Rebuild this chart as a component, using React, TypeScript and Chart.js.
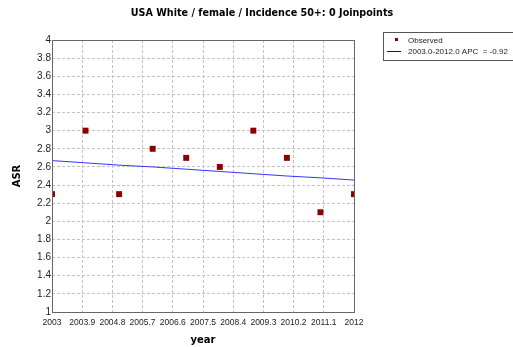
import React, { useEffect, useRef } from "react";
import { Chart, registerables } from "chart.js";

Chart.register(...registerables);

const years = [2003, 2004, 2005, 2006, 2007, 2008, 2009, 2010, 2011, 2012];
const observed = [2.3, 3.0, 2.3, 2.8, 2.7, 2.6, 3.0, 2.7, 2.1, 2.3];
const fitted = [2.67, 2.645, 2.62, 2.6, 2.575, 2.55, 2.525, 2.5, 2.48, 2.455];
const xTickValues = [2003, 2003.9, 2004.8, 2005.7, 2006.6, 2007.5, 2008.4, 2009.3, 2010.2, 2011.1, 2012];
const xTickLabels = ["2003", "2003.9", "2004.8", "2005.7", "2006.6", "2007.5", "2008.4", "2009.3", "2010.2", "2011.1", "2012"];
const titleText = "USA White / female / Incidence 50+: 0 Joinpoints";
const legendLabels = ["Observed", "2003.0-2012.0 APC  = -0.92"];

const BOLD_FONT = "'DejaVu Sans', sans-serif";
const TICK_FONT = "'Liberation Sans', Arial, sans-serif";

export default function App() {
  const ref = useRef<HTMLCanvasElement | null>(null);

  useEffect(() => {
    document.body.style.margin = "0";
    const canvas = ref.current;
    if (!canvas) return;

    const decorPlugin = {
      id: "decor",
      afterDraw(chart: any) {
        const ctx = chart.ctx;
        const a = chart.chartArea;
        ctx.save();
        // frame
        ctx.strokeStyle = "#666666";
        ctx.lineWidth = 1;
        ctx.setLineDash([]);
        ctx.strokeRect(Math.round(a.left) + 0.5, Math.round(a.top) + 0.5, Math.round(a.right - a.left), Math.round(a.bottom - a.top));
        // title
        ctx.fillStyle = "#000";
        ctx.font = "bold 9.6px " + BOLD_FONT;
        ctx.textAlign = "center";
        ctx.textBaseline = "middle";
        ctx.fillText(titleText, 262, 13);
        // legend box
        ctx.strokeStyle = "#555555";
        ctx.strokeRect(383.5, 32.5, 140, 28);
        ctx.fillStyle = "#8b0000";
        ctx.fillRect(395, 38, 3, 3);
        ctx.strokeStyle = "#0000ff";
        ctx.beginPath();
        ctx.moveTo(387, 51.5);
        ctx.lineTo(401, 51.5);
        ctx.stroke();
        ctx.fillStyle = "#222";
        ctx.font = "8px " + TICK_FONT;
        ctx.textAlign = "left";
        ctx.fillText(legendLabels[0], 408, 41);
        ctx.fillText(legendLabels[1], 408, 52);
        ctx.restore();
      },
    };

    const chart = new Chart(canvas, {
      type: "scatter",
      data: {
        datasets: [
          {
            label: legendLabels[0],
            data: years.map((x, i) => ({ x, y: observed[i] })),
            backgroundColor: "#8b0000",
            borderColor: "#8b0000",
            pointStyle: "rect",
            pointRadius: 4.2,
            borderWidth: 0,
            showLine: false,
            order: 1,
          },
          {
            label: legendLabels[1],
            data: years.map((x, i) => ({ x, y: fitted[i] })),
            borderColor: "#3535ff",
            borderWidth: 1,
            pointRadius: 0,
            showLine: true,
            order: 2,
          },
        ],
      },
      options: {
        animation: false,
        responsive: false,
        layout: { padding: { left: 0, top: 40, right: 159, bottom: 0 } },
        plugins: {
          legend: { display: false },
          title: { display: false },
          tooltip: { enabled: false },
        },
        scales: {
          x: {
            type: "linear",
            min: 2003,
            max: 2012,
            afterBuildTicks: (scale: any) => {
              scale.ticks = xTickValues.map((v) => ({ value: v }));
            },
            afterFit: (scale: any) => {
              scale.height = 35;
            },
            ticks: {
              autoSkip: false,
              maxRotation: 0,
              padding: 6,
              color: "#222",
              font: { family: TICK_FONT, size: 8.5 },
              callback: (_v: any, i: number) => xTickLabels[i],
            },
            grid: {
              color: "#c4c4c4",
              drawTicks: false,
            },
            border: { display: false, dash: [3, 2] } as any,
            title: {
              display: true,
              text: "year",
              color: "#000",
              font: { family: BOLD_FONT, size: 10, weight: "bold" },
              padding: { top: 0, bottom: 1 },
            },
          },
          y: {
            min: 1,
            max: 4,
            afterFit: (scale: any) => {
              scale.width = 52;
            },
            ticks: {
              stepSize: 0.2,
              padding: 1,
              color: "#222",
              font: { family: TICK_FONT, size: 10 },
              callback: (v: any) => String(Number(Number(v).toFixed(1))),
            },
            grid: {
              color: "#c4c4c4",
              drawTicks: false,
            },
            border: { display: false, dash: [3, 2] } as any,
            title: {
              display: true,
              text: "ASR",
              color: "#000",
              font: { family: BOLD_FONT, size: 10, weight: "bold" },
              padding: { top: 11, bottom: 0 },
            },
          },
        },
      } as any,
      plugins: [decorPlugin],
    });

    return () => chart.destroy();
  }, []);

  return <canvas ref={ref} width={513} height={347} style={{ display: "block" }} />;
}
